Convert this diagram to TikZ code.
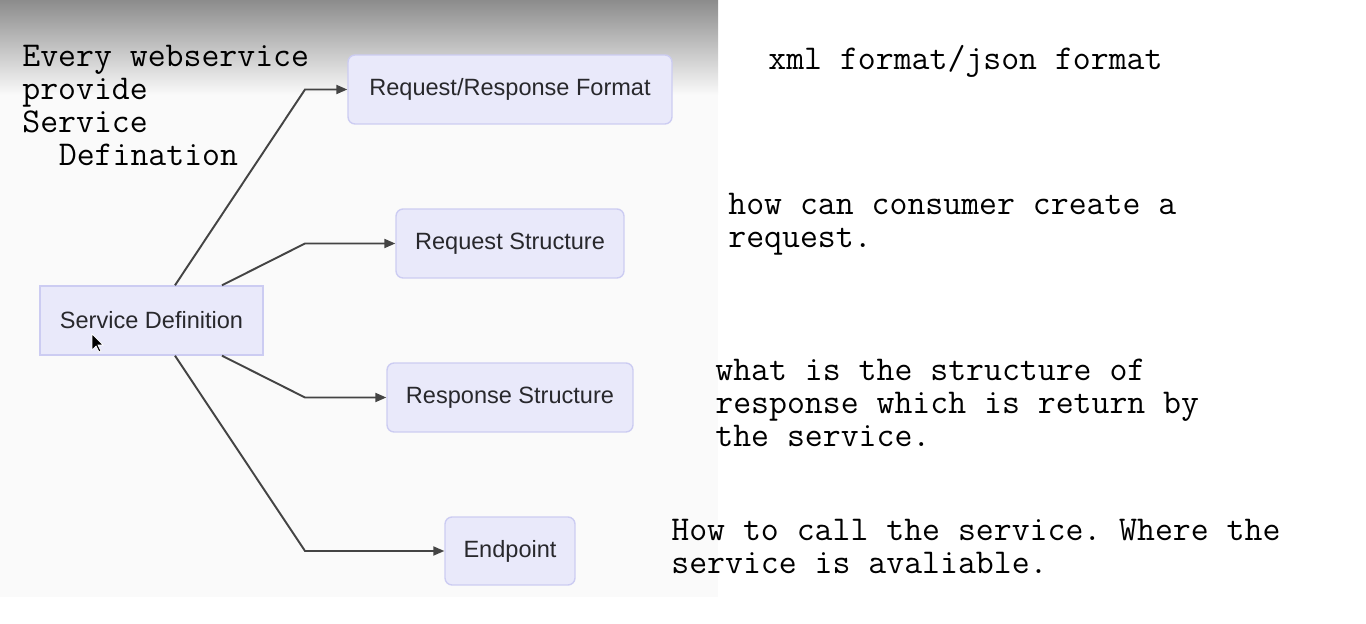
\documentclass[tikz,border=0pt]{standalone}
\usepackage{fontspec}
\setmainfont{Liberation Sans}
\usepackage{xcolor}
\usetikzlibrary{arrows.meta, positioning, calc}
\definecolor{boxfill}{RGB}{233,233,250}
\definecolor{boxline}{RGB}{204,204,242}
\definecolor{wire}{RGB}{68,68,68}
\definecolor{boxtext}{RGB}{40,40,44}
\definecolor{shotbg}{RGB}{250,250,250}
\definecolor{shottop}{RGB}{140,140,140}

\begin{document}
\begin{tikzpicture}[
  x=0.02cm, y=-0.02cm,
  block/.style={draw=boxline, fill=boxfill, line width=0.8pt, minimum height=1.38cm, text=boxtext, font=\fontsize{13.4}{16}\selectfont, inner sep=0pt},
  field/.style={block, rounded corners=4pt},
  note/.style={anchor=base west, inner sep=0pt, align=left, font=\ttfamily\frenchspacing\fontsize{19.8}{18.8}\selectfont},
  arrow/.style={draw=wire, line width=1.1pt, -{Triangle[length=2.2mm, width=1.8mm]}}
]
\useasboundingbox (0,0) rectangle (1366,624);
\fill[white] (0,0) rectangle (1366,624);
\fill[shotbg] (0,0) rectangle (718,597);
\shade[top color=shottop, bottom color=shotbg] (0,0) rectangle (718,95);

\node[block, minimum width=4.46cm] (def) at (151.5,320.5) {Service Definition};
\node[field, minimum width=6.48cm] (fmt) at (510,89.5) {Request/Response Format};
\node[field, minimum width=4.56cm] (req) at (510,243.5) {Request Structure};
\node[field, minimum width=4.92cm] (resp) at (510,397.5) {Response Structure};
\node[field, minimum width=2.6cm, minimum height=1.36cm] (endp) at (510,551) {Endpoint};

% mouse pointer
\filldraw[fill=black, draw=white, line width=0.4pt] (92,334) -- (92,350) -- (96,346) -- (99,352) -- (101,351) -- (98,345) -- (103,345) -- cycle;

\coordinate (fork) at (305,0);
\draw[arrow] ([xshift=0.47cm]def.north) -- (fork |- fmt) -- (fmt);
\draw[arrow] ([xshift=1.41cm]def.north) -- (fork |- req) -- (req);
\draw[arrow] ([xshift=1.41cm]def.south) -- (fork |- resp) -- (resp);
\draw[arrow] ([xshift=0.47cm]def.south) -- (fork |- endp) -- (endp);

% notes sit on the baseline of their last line
\node[note] (intro) at (22,166) {Every webservice\\provide\\Service\\\hspace*{1.05em}Defination};
\node[note] (fmtnote) at (768,70) {xml format/json format};
\node[note] (reqnote) at (728,248) {how can consumer create a\\request.};
\node[note] (respnote) at (715,447) {what is the structure of\\response which is return by\\the service.};
\node[note] (endpnote) at (671,574) {How to call the service. Where the\\service is avaliable.};
\end{tikzpicture}
\end{document}
